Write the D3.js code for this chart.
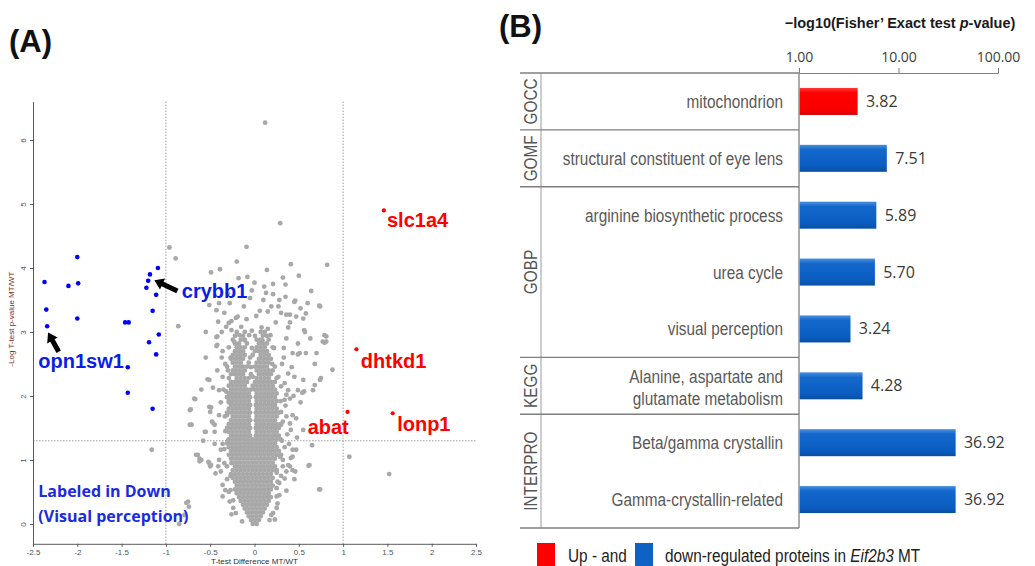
<!DOCTYPE html>
<html><head><meta charset="utf-8">
<script src="https://cdn.jsdelivr.net/npm/d3@7"></script>
<style>body{margin:0;background:#fff}svg{display:block}</style>
</head><body><svg id="c" width="1035" height="566"></svg>
<script>
// ---------------- DATA: panel A (volcano) ----------------
const xTicksA = [-2.5,-2,-1.5,-1,-0.5,0,0.5,1,1.5,2,2.5];
const yTicksA = [0,1,2,3,4,5,6];
const xThresholds = [-1, 1];
const yThreshold = 1.3;

const bluePoints = [[-2.37,3.78],[-2.35,3.35],[-2.34,3.09],[-2.00,4.17],[-2.10,3.72],[-1.99,3.76],[-2.00,3.21],
 [-1.46,3.15],[-1.42,3.15],[-1.09,4.00],[-1.18,3.90],[-1.20,3.80],[-1.22,3.69],[-1.11,3.58],[-1.15,3.33],
 [-1.19,2.84],[-1.08,2.96],[-1.11,2.65],[-1.43,2.45],[-1.43,2.05],[-1.15,1.80]];
const redPoints = [[1.46,4.90],[1.15,2.73],[1.05,1.75],[1.56,1.73]];

const grayScatter = [[0.12,6.27],[0.29,4.70],[-0.96,4.32],[-0.89,4.15],[-0.09,4.33],[-0.20,4.10],[-0.49,3.93],[-0.39,3.98],
 [-0.18,3.84],[-0.08,3.86],[0.14,3.97],[0.41,4.06],[0.82,4.05],[0.32,3.85],[0.50,3.88],[0.0,3.77],[0.11,3.71],[0.21,3.75],
 [0.35,3.74],[0.64,3.64],[0.13,3.61],[0.21,3.59],[-0.03,3.65],[-0.05,3.53],[-0.51,3.42],[-0.43,3.34],[0.06,3.33],[0.19,3.40],
 [0.46,3.49],[0.52,3.37],[0.40,3.27],[0.58,3.29],[0.55,3.21],[0.73,3.41],[-0.21,3.22],[-0.26,3.17],[-0.41,3.16],[-0.32,3.08],
 [-0.15,3.08],[-0.03,3.02],[0.08,3.07],[0.15,3.05],[0.38,3.07],[0.56,3.03],[0.81,2.93],[-0.43,2.92],[-0.17,2.95],[-0.11,2.87],
 [0.09,2.87],[0.49,2.82],[0.77,2.85],[-0.86,3.09],[-0.51,2.25],[-0.68,1.96],[-0.72,1.79],[-0.71,1.55],[-0.49,1.82],[-0.47,1.58],
 [-0.40,2.09],[-0.64,1.08],[-0.62,1.02],[-0.51,0.95],[-0.38,0.82],[-0.36,0.61],[-0.27,0.53],[-0.24,0.37],[-0.75,0.35],[-0.40,3.45],
 [-0.29,3.14],[-0.26,3.03],[-0.19,3.24],[0.15,3.32],[0.36,3.27],[0.47,3.24],[0.45,3.47],[0.74,3.40],[0.57,3.00],[0.79,2.95],
 [0.79,2.83],[0.43,2.67],[0.51,2.67],[0.70,2.67],[0.88,2.41],[0.75,2.28],[0.55,2.25],[0.66,2.09],[0.49,2.09],[0.54,2.05],
 [0.34,2.20],[0.38,2.09],[0.40,1.96],[0.43,1.70],[0.47,1.65],[0.65,1.23],[0.74,0.54],[0.62,0.92],[1.07,1.05],[1.52,0.78],
 [0.43,1.16],[0.41,1.03],[0.38,0.92],[0.43,0.84],[0.45,0.70],[0.36,0.52],[0.17,0.42],[0.23,0.07],[0.19,0.14],[0.30,1.08],
 [0.32,1.00],[0.55,1.47],[-0.67,1.95],[-0.55,1.44],[-0.45,1.55],[-0.45,1.44],[-0.51,1.83],[-0.50,1.75],[-0.53,2.26],[-0.47,2.13],
 [-0.43,2.78],[-0.36,2.30],[-0.32,2.07],[-0.28,2.04],[-0.66,1.08],[-0.60,1.00],[-0.52,0.97],[-0.49,0.92],[-0.38,1.16],[-0.34,1.17],
 [-0.40,1.00],[-0.41,0.90],[-0.44,0.79],[-0.33,0.53],[-0.36,0.43],[-0.28,0.35],[-0.24,0.25],[-0.14,0.04],[-0.21,0.17],
 [0.38,2.35],[0.36,2.02],[0.34,1.94],[0.49,2.65],[0.58,2.67],[0.81,2.85],[0.68,2.17],[0.74,2.25],[0.56,2.07],[0.36,1.68],
 [0.40,1.57],[0.41,1.47],[0.47,1.16],[0.43,1.05],[0.40,0.90],[0.36,0.82],[0.34,0.71],[0.28,0.64],[0.25,0.56],[0.46,0.82],
 [0.25,0.43],[0.25,0.25],[0.21,0.17],[0.17,0.06],[0.61,0.91],[0.73,0.54],[-0.77,0.33],[-0.74,0.27],[-0.85,0.00],[-0.79,0.14],
 [-1.16,1.16],[-0.42,2.93],[-0.42,2.80],[-0.37,2.60],[-0.56,1.44],[-0.48,1.60],[-0.73,1.78],[-0.73,1.55],[-0.62,0.98],
 [-0.50,0.90],[-0.30,1.30],[-0.31,1.70],[-0.29,1.90],[0.31,1.30],[0.30,1.75],[0.29,1.05],[-0.27,0.75],[0.25,0.80],[-0.30,2.40],
 [0.20,2.50],[0.22,2.75],[-0.27,2.60],[0.27,2.30],[-0.26,0.95],[0.30,1.55],[-0.23,2.85],[0.18,2.95],[0.24,3.15],[-0.09,3.20],
 [0.02,3.25],[-0.12,3.40],[0.10,3.50],[0.28,3.50],[-0.30,3.60],[0.30,3.30],
 [0.31,2.50],[0.33,2.75],[0.36,2.90],[0.42,2.45],[0.45,2.30],[0.33,2.60],[0.30,2.15],[0.35,1.85],[0.32,1.60],[0.37,1.40],
 [0.34,1.20],[0.32,0.90],[0.30,0.75],[0.28,0.45],[0.26,0.32],[0.39,1.25],[0.48,1.35],[0.52,1.90],[0.44,2.00],[0.40,3.15],
 [0.27,3.40],[0.35,3.55],[0.60,3.45],[0.63,2.90],[0.68,2.50],[-0.33,2.50],[-0.36,2.70],[-0.35,2.10],[-0.38,1.90],[-0.33,1.45],
 [-0.36,1.25],[-0.34,0.95],[-0.31,0.70],[-0.29,0.50],[-0.26,0.15],[-0.40,1.70],[-0.42,2.40],[-0.34,3.30],[-0.28,3.45],[-0.55,2.60],
 [-0.60,2.10],[-0.58,1.30],[-0.55,3.00],[-0.37,3.00],[-0.45,1.25],
 [-0.04,2.45],[-0.03,2.75],[-0.06,2.95],[-0.02,2.30],[-0.05,2.60]];

// dense core of the cloud, one row per y value: [y, [x values]]
const grayCoreRows = [
 [0.00,[-0.02,0.025]],
 [0.06,[-0.04,0.005,0.05]],
 [0.12,[-0.065,-0.02,0.025,0.07]],
 [0.18,[-0.085,-0.04,0.005,0.05,0.095]],
 [0.24,[-0.11,-0.065,-0.02,0.025,0.07,0.115]],
 [0.30,[-0.13,-0.085,-0.04,0.005,0.05,0.095,0.14]],
 [0.36,[-0.155,-0.11,-0.065,-0.02,0.025,0.07,0.115,0.16]],
 [0.42,[-0.175,-0.13,-0.085,-0.04,0.005,0.05,0.095,0.14,0.185]],
 [0.48,[-0.20,-0.155,-0.11,-0.065,-0.02,0.025,0.07,0.115,0.16]],
 [0.54,[-0.22,-0.175,-0.13,-0.085,-0.04,0.005,0.05,0.095,0.14,0.185]],
 [0.60,[-0.20,-0.155,-0.11,-0.065,-0.02,0.025,0.07,0.115,0.16,0.205]],
 [0.66,[-0.22,-0.175,-0.13,-0.085,-0.04,0.005,0.05,0.095,0.14,0.185,0.26]],
 [0.72,[-0.245,-0.20,-0.155,-0.11,-0.065,-0.02,0.025,0.07,0.115,0.16,0.205]],
 [0.78,[-0.265,-0.22,-0.175,-0.13,-0.085,-0.04,0.005,0.05,0.095,0.14,0.185]],
 [0.84,[-0.245,-0.20,-0.155,-0.11,-0.065,-0.02,0.025,0.07,0.115,0.16,0.205,0.25]],
 [0.90,[-0.31,-0.22,-0.175,-0.13,-0.085,-0.04,0.005,0.05,0.095,0.14,0.185,0.23]],
 [0.96,[-0.245,-0.20,-0.155,-0.11,-0.065,-0.02,0.025,0.07,0.115,0.16,0.205]],
 [1.02,[-0.265,-0.22,-0.175,-0.13,-0.085,-0.04,0.005,0.05,0.095,0.14,0.185,0.23]],
 [1.08,[-0.29,-0.245,-0.20,-0.155,-0.11,-0.065,-0.02,0.025,0.07,0.115,0.16,0.205,0.25]],
 [1.14,[-0.265,-0.22,-0.175,-0.13,-0.085,-0.04,0.005,0.05,0.095,0.14,0.185,0.23,0.275]],
 [1.20,[-0.29,-0.245,-0.20,-0.155,-0.11,-0.065,-0.02,0.025,0.07,0.115,0.16,0.205,0.25]],
 [1.26,[-0.31,-0.265,-0.22,-0.175,-0.13,-0.085,-0.04,0.005,0.05,0.095,0.14,0.185,0.23]],
 [1.32,[-0.29,-0.245,-0.20,-0.155,-0.11,-0.065,-0.02,0.025,0.07,0.115,0.16,0.205,0.25,0.295]],
 [1.38,[-0.265,-0.22,-0.175,-0.13,-0.085,-0.05,0.015,0.05,0.095,0.14,0.185,0.23,0.275]],
 [1.44,[-0.29,-0.245,-0.20,-0.155,-0.11,-0.065,0.025,0.07,0.115,0.16,0.205,0.25]],
 [1.50,[-0.31,-0.265,-0.22,-0.175,-0.13,-0.085,-0.05,0.015,0.05,0.095,0.14,0.185,0.23,0.275]],
 [1.56,[-0.29,-0.245,-0.20,-0.155,-0.11,-0.065,0.025,0.07,0.115,0.16,0.205,0.25,0.295]],
 [1.62,[-0.265,-0.22,-0.175,-0.13,-0.085,-0.05,0.015,0.05,0.095,0.14,0.185,0.23]],
 [1.68,[-0.335,-0.245,-0.20,-0.155,-0.11,-0.065,0.025,0.07,0.115,0.16,0.205,0.25]],
 [1.74,[-0.31,-0.265,-0.22,-0.175,-0.13,-0.085,-0.05,0.015,0.05,0.095,0.14,0.185,0.23,0.275]],
 [1.80,[-0.29,-0.245,-0.20,-0.155,-0.11,-0.065,0.025,0.07,0.115,0.16,0.205,0.25]],
 [1.86,[-0.265,-0.22,-0.175,-0.13,-0.085,-0.05,0.015,0.05,0.095,0.14,0.185,0.23]],
 [1.92,[-0.29,-0.245,-0.20,-0.155,-0.11,-0.065,0.025,0.07,0.115,0.16,0.205,0.25,0.295]],
 [1.98,[-0.31,-0.265,-0.22,-0.175,-0.13,-0.085,-0.05,0.015,0.05,0.095,0.14,0.185,0.23]],
 [2.04,[-0.29,-0.245,-0.20,-0.155,-0.11,-0.065,0.025,0.07,0.115,0.16,0.205,0.25]],
 [2.10,[-0.265,-0.22,-0.175,-0.13,-0.085,-0.04,0.005,0.05,0.095,0.14,0.185,0.23]],
 [2.16,[-0.29,-0.245,-0.20,-0.155,-0.11,-0.02,0.025,0.07,0.115,0.16,0.205]],
 [2.22,[-0.265,-0.22,-0.175,-0.13,-0.085,0.005,0.05,0.095,0.14,0.185,0.23]],
 [2.28,[-0.29,-0.20,-0.155,-0.11,-0.065,0.025,0.07,0.115,0.16,0.25]],
 [2.34,[-0.265,-0.22,-0.175,-0.13,-0.04,0.05,0.095,0.14,0.185]],
 [2.40,[-0.245,-0.20,-0.155,-0.11,0.025,0.07,0.115,0.16,0.205]],
 [2.46,[-0.31,-0.22,-0.175,-0.13,-0.085,0.005,0.05,0.095,0.14,0.23]],
 [2.52,[-0.245,-0.20,-0.155,-0.065,0.025,0.07,0.115,0.16]],
 [2.58,[-0.265,-0.22,-0.175,-0.13,0.05,0.095,0.14,0.185]],
 [2.64,[-0.245,-0.20,-0.155,-0.11,-0.02,0.07,0.115,0.16]],
 [2.70,[-0.22,-0.175,-0.13,0.005,0.05,0.095,0.14]],
 [2.76,[-0.29,-0.20,-0.155,-0.11,0.025,0.07,0.115,0.205]],
 [2.82,[-0.22,-0.175,-0.085,0.05,0.095,0.14]],
 [2.88,[-0.245,-0.155,-0.11,0.025,0.07,0.16]],
 [2.94,[-0.22,-0.13,0.005,0.095,0.14]],
 [3.00,[-0.20,-0.11,0.07,0.115]]
];

// ---------------- DATA: panel B (enrichment bars) ----------------
const categories = ["mitochondrion","structural constituent of eye lens","arginine biosynthetic process","urea cycle",
 "visual perception","Alanine, aspartate and\nglutamate metabolism","Beta/gamma crystallin","Gamma-crystallin-related"];
const enrichValues = [3.82,7.51,5.89,5.70,3.24,4.28,36.92,36.92];
const valueLabels = ["3.82","7.51","5.89","5.70","3.24","4.28","36.92","36.92"];
const direction = ["up","down","down","down","down","down","down","down"];
const groupNames = ["GOCC","GOMF","GOBP","KEGG","INTERPRO"];
const groupSizes = [1,1,3,1,2];
const xTicksB = [1,10,100];

// ---------------- DRAW ----------------
const svg = d3.select("#c");
const sans = "'Liberation Sans',Arial,sans-serif";
const calib = "'Open Sans','Noto Sans',sans-serif";
const NARROW = 0.83;

svg.append("text").attr("x",9).attr("y",52).text("(A)")
  .attr("font-family",sans).attr("font-weight","bold").attr("font-size",31).attr("fill","#111");
svg.append("text").attr("x",499).attr("y",37).text("(B)")
  .attr("font-family",sans).attr("font-weight","bold").attr("font-size",31).attr("fill","#111");

// ---- Panel A ----
const xA = d3.scaleLinear().domain([-2.5,2.5]).range([33,476]);
const yA = d3.scaleLinear().domain([-0.31,6.6]).range([543.8,101.6]);
const gA = svg.append("g");

gA.selectAll("line.vt").data(xThresholds).join("line")
  .attr("x1",d=>xA(d)).attr("x2",d=>xA(d)).attr("y1",yA(6.6)).attr("y2",yA(-0.31))
  .attr("stroke","#9c9c9c").attr("stroke-width",1).attr("stroke-dasharray","1.5,1.5");
gA.append("line").attr("x1",xA(-2.5)).attr("x2",xA(2.5)).attr("y1",yA(yThreshold)).attr("y2",yA(yThreshold))
  .attr("stroke","#9c9c9c").attr("stroke-width",1).attr("stroke-dasharray","1.5,1.5");

const yAxisA = d3.axisLeft(yA).tickValues(yTicksA).tickSize(3).tickSizeOuter(0).tickFormat(d3.format("d"));
const gy = gA.append("g").attr("transform",`translate(${xA(-2.5)},0)`).call(yAxisA);
const xAxisA = d3.axisBottom(xA).tickValues(xTicksA).tickSize(3).tickSizeOuter(0).tickFormat(d=>String(d));
const gx = gA.append("g").attr("transform",`translate(0,${yA(-0.31)})`).call(xAxisA);
[gy,gx].forEach(g=>{
  g.select(".domain").attr("stroke","#5a5a5a");
  g.selectAll(".tick line").attr("stroke","#5a5a5a");
  g.selectAll(".tick text").attr("font-family",sans).attr("font-size",8).attr("fill","#555");
});
gy.selectAll(".tick text").attr("transform","rotate(-90)").attr("x",0).attr("y",-7).attr("dy",0).attr("text-anchor","middle");
gx.selectAll(".tick text").attr("y",6).attr("dy","0.71em");

gA.append("text").attr("transform",`translate(14,${yA(3.2)}) rotate(-90)`).attr("text-anchor","middle")
  .attr("font-family",sans).attr("font-size",8).attr("fill","#7b2d26").text("-Log T-test p-value MT/WT");
gA.append("text").attr("x",xA(0)).attr("y",564).attr("text-anchor","middle")
  .attr("font-family",sans).attr("font-size",8).attr("fill","#333").text("T-test Difference MT/WT");

const grayAll = grayScatter.concat(grayCoreRows.flatMap(([y,xs])=>xs.map(x=>[x,y])));
gA.append("g").selectAll("circle").data(grayAll).join("circle")
  .attr("cx",d=>xA(d[0])).attr("cy",d=>yA(d[1])).attr("r",2.4).attr("fill","#a8a8a8");
gA.append("g").selectAll("circle").data(bluePoints).join("circle")
  .attr("cx",d=>xA(d[0])).attr("cy",d=>yA(d[1])).attr("r",2.3).attr("fill","#0000ff");
gA.append("g").selectAll("circle").data(redPoints).join("circle")
  .attr("cx",d=>xA(d[0])).attr("cy",d=>yA(d[1])).attr("r",2.1).attr("fill","#ff0000");

const geneLabels = [
  {t:"slc1a4",x:1.495,y:4.64,c:"#ff0000"},
  {t:"dhtkd1",x:1.20,y:2.44,c:"#ff0000"},
  {t:"abat",x:0.60,y:1.41,c:"#ff0000"},
  {t:"lonp1",x:1.61,y:1.45,c:"#ff0000"},
  {t:"crybb1",x:-0.82,y:3.53,c:"#0a1ee6"},
  {t:"opn1sw1",x:-2.44,y:2.44,c:"#0a1ee6"}];
gA.selectAll("text.gene").data(geneLabels).join("text").attr("class","gene")
  .attr("x",d=>xA(d.x)).attr("y",d=>yA(d.y)).text(d=>d.t)
  .attr("font-family",sans).attr("font-weight","bold").attr("font-size",20).attr("fill",d=>d.c);

const noteLines = ["Labeled in Down","(Visual perception)"];
gA.selectAll("text.note").data(noteLines).join("text").attr("class","note")
  .attr("x",xA(-2.44)).attr("y",(d,i)=>yA([0.42,0.03][i])).text(d=>d)
  .attr("font-family",calib).attr("font-weight",700).attr("font-size",16).attr("fill","#1a2be0");

function arrowPts(tip, tail, w, hw, hl){
  const dx=tail[0]-tip[0], dy=tail[1]-tip[1], L=Math.hypot(dx,dy), ux=dx/L, uy=dy/L, px=-uy, py=ux;
  const b=[tip[0]+ux*hl, tip[1]+uy*hl];
  return [tip,[b[0]+px*hw/2,b[1]+py*hw/2],[b[0]+px*w/2,b[1]+py*w/2],[tail[0]+px*w/2,tail[1]+py*w/2],
    [tail[0]-px*w/2,tail[1]-py*w/2],[b[0]-px*w/2,b[1]-py*w/2],[b[0]-px*hw/2,b[1]-py*hw/2]].map(p=>p.join(",")).join(" ");
}
const arrows = [{tip:[-1.13,3.81],tail:[-0.87,3.64]},{tip:[-2.33,2.99],tail:[-2.21,2.69]}];
gA.selectAll("polygon.arr").data(arrows).join("polygon")
  .attr("points",d=>arrowPts([xA(d.tip[0]),yA(d.tip[1])],[xA(d.tail[0]),yA(d.tail[1])],5,12,9))
  .attr("fill","#000");

// ---- Panel B ----
const xB = d3.scaleLog().domain([1,100]).range([799,998]);
const yB = d3.scaleBand().domain(d3.range(categories.length)).range([73,528]).paddingInner(0.525).paddingOuter(0.2625);
const gB = svg.append("g");
const step = yB.step();
const rowTop = i => 73 + i*step;
const lineCol = "#7f7f7f";

gB.append("text").attr("x",900).attr("y",28).attr("text-anchor","middle")
  .attr("font-family",sans).attr("font-weight","bold").attr("font-size",14.5).attr("fill","#1a1a1a")
  .call(t=>{t.append("tspan").text("\u2212log10(Fisher\u2019 Exact test ");
           t.append("tspan").attr("font-style","italic").text("p");
           t.append("tspan").text("-value)");});

const xAxisB = d3.axisTop(xB).tickValues(xTicksB).tickSize(5).tickSizeOuter(0).tickPadding(6).tickFormat(d3.format(".2f"));
const gxb = gB.append("g").attr("transform","translate(0,73)").call(xAxisB);
gxb.select(".domain").attr("stroke",lineCol);
gxb.selectAll(".tick line").attr("stroke",lineCol);
gxb.selectAll(".tick text").attr("font-family",calib).attr("font-size",14).attr("fill","#404040");

gB.append("line").attr("x1",520).attr("x2",xB(1)).attr("y1",73).attr("y2",73).attr("stroke",lineCol).attr("stroke-width",1.3);
gB.append("line").attr("x1",xB(1)).attr("x2",xB(1)).attr("y1",73).attr("y2",528).attr("stroke",lineCol).attr("stroke-width",1.3);
gB.append("line").attr("x1",541).attr("x2",541).attr("y1",73).attr("y2",528).attr("stroke","#9a9a9a").attr("stroke-width",1);

const groupStarts = groupSizes.map((n,i)=>d3.sum(groupSizes.slice(0,i)));
const groupBounds = groupStarts.slice(1).concat([categories.length]);
gB.selectAll("line.gsep").data(groupBounds).join("line")
  .attr("x1",520).attr("x2",xB(1)).attr("y1",d=>rowTop(d)).attr("y2",d=>rowTop(d))
  .attr("stroke",lineCol).attr("stroke-width",1.3);

gB.selectAll("text.grp").data(groupNames).join("text")
  .attr("transform",(d,i)=>`translate(537,${rowTop(groupStarts[i]) + groupSizes[i]*step/2}) rotate(-90) scale(${NARROW},1)`)
  .attr("text-anchor","middle").attr("font-family",sans).attr("font-size",18.5).attr("fill","#555").text(d=>d);

const defs = svg.append("defs");
const gradDown = defs.append("linearGradient").attr("id","gDown").attr("x1",0).attr("x2",0).attr("y1",0).attr("y2",1);
[["0%","#4a90de"],["18%","#1468cc"],["80%","#0a5cc0"],["100%","#0a4f9f"]].forEach(s=>gradDown.append("stop").attr("offset",s[0]).attr("stop-color",s[1]));
const gradUp = defs.append("linearGradient").attr("id","gUp").attr("x1",0).attr("x2",0).attr("y1",0).attr("y2",1);
[["0%","#ff3a3a"],["18%","#ff0000"],["85%","#f80000"],["100%","#d00000"]].forEach(s=>gradUp.append("stop").attr("offset",s[0]).attr("stop-color",s[1]));

gB.selectAll("rect.bar").data(enrichValues).join("rect")
  .attr("x",xB(1)+0.7).attr("y",(d,i)=>yB(i)).attr("width",d=>xB(d)-xB(1)).attr("height",yB.bandwidth())
  .attr("fill",(d,i)=>direction[i]==="up"?"url(#gUp)":"url(#gDown)");

gB.selectAll("text.val").data(enrichValues).join("text")
  .attr("x",d=>xB(d)+9).attr("y",(d,i)=>yB(i)+yB.bandwidth()/2+5.5).text((d,i)=>valueLabels[i])
  .attr("font-family",calib).attr("font-size",16).attr("fill","#3a3a3a");

categories.forEach((c,i)=>{
  const lines = c.split("\n");
  const cy = yB(i)+yB.bandwidth()/2;
  const base = lines.length===1 ? [cy+6.5] : [cy-3, cy+19];
  lines.forEach((l,j)=>gB.append("text").attr("transform",`translate(783,${base[j]}) scale(${NARROW},1)`).attr("text-anchor","end")
    .attr("font-family",sans).attr("font-size",18.5).attr("fill","#595959").text(l));
});

// legend
const legend = [{c:"#ff0000",x:537},{c:"#0d62c4",x:635}];
gB.selectAll("rect.leg").data(legend).join("rect").attr("x",d=>d.x).attr("y",543).attr("width",18).attr("height",23).attr("fill",d=>d.c);
gB.append("text").attr("transform",`translate(568,562) scale(${NARROW},1)`).attr("font-family",sans).attr("font-size",18.5).attr("fill","#222").text("Up - and");
gB.append("text").attr("transform",`translate(665,562) scale(${NARROW},1)`).attr("font-family",sans).attr("font-size",18.5).attr("fill","#222")
  .call(t=>{t.append("tspan").text("down-regulated proteins in ");
           t.append("tspan").attr("font-style","italic").text("Eif2b3");
           t.append("tspan").text(" MT");});
</script></body></html>
